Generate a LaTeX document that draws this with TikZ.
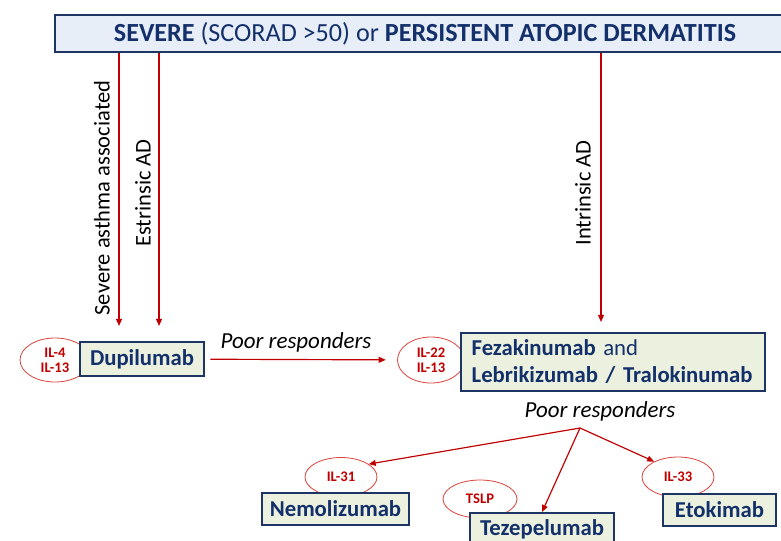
\documentclass[tikz,border=0pt]{standalone}
\usepackage{fontspec}
\setmainfont{Carlito}
\usepackage{tikz}
\usetikzlibrary{arrows.meta}
\usetikzlibrary{shapes.geometric}
\definecolor{navy}{HTML}{13306B}
\definecolor{boxline}{HTML}{1C3565}
\definecolor{titlefill}{HTML}{E8EEF8}
\definecolor{drugfill}{HTML}{EBF1DE}
\definecolor{darkred}{HTML}{C00000}
\definecolor{ovalred}{HTML}{D9463F}
\tikzset{
  titlebox/.style={draw=boxline, line width=2pt, fill=titlefill, text=navy,
    minimum width=222mm, minimum height=11.1mm, inner sep=0pt,
    font=\fontsize{22.3}{24}\selectfont},
  drugbox/.style={draw=boxline, line width=1.6pt, fill=drugfill, text=navy,
    inner sep=0pt, font=\fontsize{19.4}{23}\selectfont\bfseries},
  target/.style={ellipse, draw=ovalred, line width=0.7pt, inner sep=0pt,
    text=darkred, align=center, font=\fontsize{12.5}{14}\selectfont\bfseries},
  redarrow/.style={draw=darkred, line width=1pt,
    -{Triangle[length=6pt,width=5pt]}},
  sidelabel/.style={rotate=90, font=\fontsize{19.2}{21}\selectfont},
  poor/.style={font=\fontsize{19.6}{21}\selectfont\itshape}
}

\begin{document}
\begin{tikzpicture}[x=0.3mm,y=-0.3mm]
\useasboundingbox (0,0) rectangle (781,540);
\node (title) at (425,33.5)[titlebox]
  {\textbf{SEVERE} (SCORAD >50) or \textbf{PERSISTENT ATOPIC DERMATITIS}};
% first line
\node (il4) at (55,360)[target, minimum width=21mm, minimum height=13.2mm] {IL-4\\[-1pt]IL-13};
\node (dupi) at (142,359)[drugbox, minimum width=37.2mm, minimum height=10.2mm] {Dupilumab};
\node (il22) at (431,360)[target, minimum width=20.1mm, minimum height=13.8mm] {IL-22\\[-1pt]IL-13};
\node (feza) at (613,362)[drugbox, minimum width=91.2mm, minimum height=17.4mm, inner xsep=3.2mm,
  align=left, text width=84.8mm]
  {Fezakinumab {\mdseries and}\\Lebrikizumab / Tralokinumab};
\coordinate (asthmaend) at (119,326);
\coordinate (estrend) at (159,326);
\coordinate (intrend) at (601,322);
\draw[redarrow] (title.south -| asthmaend) -- (asthmaend);
\draw[redarrow] (title.south -| estrend) -- (estrend);
\draw[redarrow] (title.south -| intrend) -- (intrend);
\node (asthma) at (102,198)[sidelabel] {Severe asthma associated};
\node (estr) at (143,193)[sidelabel] {Estrinsic AD};
\node (intr) at (583,193)[sidelabel] {Intrinsic AD};
\draw[redarrow, shorten <=1.6mm, shorten >=3.4mm] (dupi) -- (il22);
\node (poor1) at (296,342)[poor] {Poor responders};
% second line
\node (poor2) at (600,411)[poor] {Poor responders};
\coordinate (split) at (580,428);
\node (il31) at (341,477)[target, minimum width=21.6mm, minimum height=11.7mm] {IL-31};
\node (tslp) at (480,499)[target, minimum width=22.2mm, minimum height=11.4mm] {TSLP};
\node (il33) at (678,477)[target, minimum width=21.6mm, minimum height=12mm] {IL-33};
\node (nemo) at (335.5,509)[drugbox, minimum width=44.1mm, minimum height=9.6mm] {Nemolizumab};
\node (tezep) at (542,529)[drugbox, minimum width=43.2mm, minimum height=9.6mm] {Tezepelumab};
\node (etok) at (719.5,510)[drugbox, minimum width=33.9mm, minimum height=9.6mm] {Etokimab};
\draw[redarrow] (split) -- (il31.25);
\draw[redarrow] (split) -- (tezep.north);
\draw[redarrow] (split) -- (il33.147);
\end{tikzpicture}
\end{document}
